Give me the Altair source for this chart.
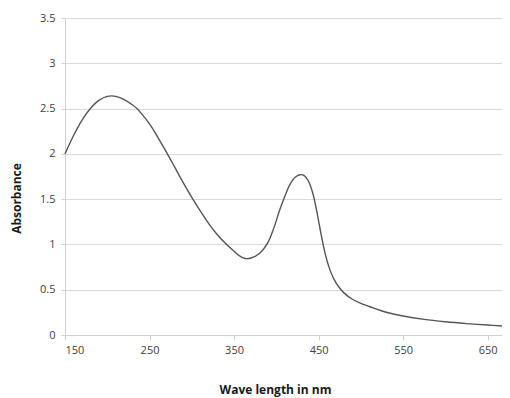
import altair as alt
import pandas as pd

wavelength = [150, 160, 170, 180, 190, 200, 205, 210, 220, 230, 235, 240,
              250, 260, 270, 280, 290, 300, 310, 320, 330, 340, 350, 356, 363, 370, 380,
              390, 397, 404, 410, 416, 422, 428, 433, 438, 443, 448, 453, 458, 463, 468,
              474, 480, 490, 500, 510, 525, 550, 575, 600, 625, 650, 667]
absorbance = [2.00, 2.20, 2.37, 2.50, 2.59, 2.635, 2.64, 2.635, 2.60, 2.54, 2.50, 2.45,
              2.33, 2.18, 2.02, 1.85, 1.68, 1.52, 1.37, 1.23, 1.11, 1.01, 0.925, 0.877, 0.845, 0.85, 0.90,
              1.02, 1.18, 1.38, 1.53, 1.66, 1.74, 1.77, 1.76, 1.70, 1.57, 1.36, 1.11, 0.89, 0.73, 0.62,
              0.53, 0.465, 0.395, 0.35, 0.315, 0.265, 0.21, 0.172, 0.146, 0.126, 0.11, 0.10]
x_ticks = [150, 250, 350, 450, 550, 650]
y_ticks = [0, 0.5, 1, 1.5, 2, 2.5, 3, 3.5]

df = pd.DataFrame({"wavelength": wavelength, "absorbance": absorbance})

chart = alt.Chart(df).mark_line(
    color="#555555", strokeWidth=1.4, interpolate="catmull-rom"
).encode(
    x=alt.X("wavelength:Q",
            scale=alt.Scale(domain=[150, 667], nice=False, zero=False),
            axis=alt.Axis(values=x_ticks, title="Wave length in nm", grid=False,
                          labelFont="Open Sans", labelFontSize=11, labelColor="#404040",
                          labelPadding=4, tickSize=5, tickColor="#d0d0d0",
                          domainColor="#d0d0d0",
                          titleFont="Open Sans", titleFontSize=12, titleFontWeight="bold",
                          titleColor="#1a1a1a", titleX=210, titleY=54,
                          titleAlign="center", titleBaseline="middle", titleAnchor="start")),
    y=alt.Y("absorbance:Q",
            scale=alt.Scale(domain=[0, 3.5], nice=False),
            axis=alt.Axis(values=y_ticks, title="Absorbance", grid=True, format="~g",
                          gridColor="#d9d9d9", gridWidth=1.2,
                          labelFont="Open Sans", labelFontSize=11, labelColor="#404040",
                          labelPadding=6, tickSize=4, tickColor="#d0d0d0",
                          domainColor="#d0d0d0",
                          titleFont="Open Sans", titleFontSize=12, titleFontWeight="bold",
                          titleColor="#1a1a1a", titleX=-49, titleY=180, titleAngle=-90,
                          titleAlign="center", titleBaseline="middle", titleAnchor="start")),
).properties(
    width=437, height=317,
    autosize=alt.AutoSizeParams(type="none"),
    padding={"left": 57, "top": 10, "right": 0, "bottom": 64},
).configure_view(stroke=None).configure(background="white")

chart.save("out.html", embed_options={"renderer": "svg", "actions": False})
